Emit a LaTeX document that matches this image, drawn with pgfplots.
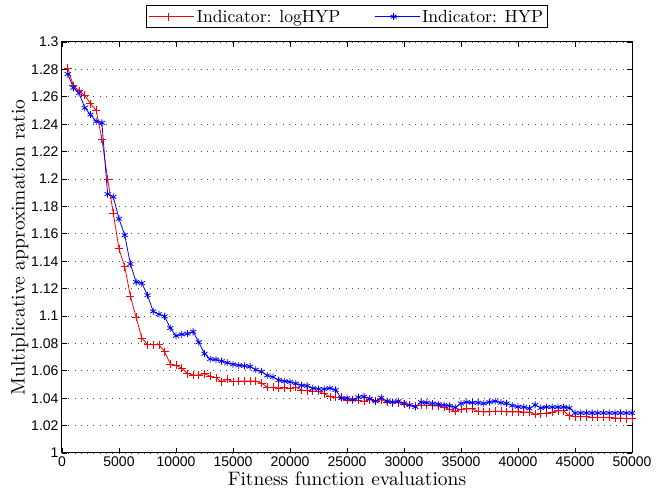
\documentclass[border=0pt]{standalone}
\usepackage{pgfplots}
\usepackage{pgfplotstable}
\pgfplotsset{compat=1.18}
\usepackage{fontspec}
\newfontfamily\ticksf{Liberation Sans}
\newfontfamily\lmten{lmroman10-regular.otf}

\pgfplotstableread{
x y
500 1.281
1000 1.268
1500 1.2645
2000 1.261
2500 1.255
3000 1.250
3500 1.229
4000 1.200
4500 1.175
5000 1.149
5500 1.136
6000 1.1145
6500 1.099
7000 1.084
7500 1.079
8000 1.079
8500 1.079
9000 1.074
9500 1.065
10000 1.064
10500 1.062
11000 1.058
11500 1.057
12000 1.057
12500 1.058
13000 1.056
13500 1.055
14000 1.052
14500 1.054
15000 1.052
15500 1.0525
16000 1.0525
16500 1.0525
17000 1.0525
17500 1.051
18000 1.048
18500 1.048
19000 1.0475
19500 1.0476
20000 1.0472
20500 1.048
21000 1.046
21500 1.0456
22000 1.0451
22500 1.0449
23000 1.0433
23500 1.0411
24000 1.0407
24500 1.0407
25000 1.0384
25500 1.0389
26000 1.0384
26500 1.0378
27000 1.0389
27500 1.0378
28000 1.0389
28500 1.0371
29000 1.0367
29500 1.0367
30000 1.0358
30500 1.035
31000 1.0346
31500 1.0349
32000 1.0349
32500 1.0344
33000 1.0344
33500 1.0333
34000 1.0318
34500 1.0304
35000 1.0318
35500 1.0322
36000 1.0322
36500 1.0304
37000 1.030
37500 1.030
38000 1.0304
38500 1.0304
39000 1.030
39500 1.030
40000 1.030
40500 1.0299
41000 1.0299
41500 1.0282
42000 1.0286
42500 1.0292
43000 1.0299
43500 1.0308
44000 1.0308
44500 1.0271
45000 1.0265
45500 1.0265
46000 1.0265
46500 1.026
47000 1.026
47500 1.026
48000 1.026
48500 1.0256
49000 1.0256
49500 1.025
50000 1.025
}\logdata

\pgfplotstableread{
x y
500 1.2766
1000 1.2666
1500 1.2627
2000 1.252
2500 1.247
3000 1.242
3500 1.241
4000 1.189
4500 1.187
5000 1.171
5500 1.159
6000 1.138
6500 1.1248
7000 1.1240
7500 1.1152
8000 1.1033
8500 1.1013
9000 1.0997
9500 1.0912
10000 1.0855
10500 1.0866
11000 1.0871
11500 1.0885
12000 1.0809
12500 1.0725
13000 1.0686
13500 1.0682
14000 1.067
14500 1.0659
15000 1.0647
15500 1.064
16000 1.0636
16500 1.0631
17000 1.0608
17500 1.0594
18000 1.0566
18500 1.0555
19000 1.0532
19500 1.0524
20000 1.0519
20500 1.0507
21000 1.0493
21500 1.049
22000 1.0473
22500 1.0467
23000 1.0467
23500 1.0473
24000 1.046
24500 1.040
25000 1.040
25500 1.0389
26000 1.0407
26500 1.0411
27000 1.0396
27500 1.0378
28000 1.0404
28500 1.0378
29000 1.0371
29500 1.0378
30000 1.0362
30500 1.035
31000 1.0336
31500 1.0371
32000 1.0367
32500 1.0362
33000 1.0356
33500 1.0349
34000 1.0344
34500 1.0333
35000 1.0362
35500 1.0371
36000 1.0367
36500 1.0367
37000 1.0362
37500 1.0371
38000 1.0378
38500 1.0367
39000 1.0362
39500 1.0346
40000 1.0338
40500 1.0335
41000 1.0325
41500 1.0351
42000 1.0329
42500 1.0335
43000 1.0335
43500 1.0335
44000 1.0335
44500 1.0329
45000 1.0292
45500 1.0292
46000 1.0292
46500 1.0292
47000 1.0292
47500 1.0292
48000 1.0292
48500 1.0292
49000 1.0292
49500 1.0292
50000 1.0292
}\hypdata

\begin{document}
\begin{tikzpicture}
\begin{axis}[
  name=ax,
  scale only axis,
  width=570pt, height=411pt,
  xmin=0, xmax=50000, ymin=1, ymax=1.3,
  xtick={0,5000,10000,15000,20000,25000,30000,35000,40000,45000,50000},
  ytick={1,1.02,1.04,1.06,1.08,1.1,1.12,1.14,1.16,1.18,1.2,1.22,1.24,1.26,1.28,1.3},
  scaled x ticks=false, scaled y ticks=false,
  xticklabel style={/pgf/number format/1000 sep={}},
  yticklabel style={/pgf/number format/fixed, /pgf/number format/precision=2},
  /pgf/number format/assume math mode=true,
  tick label style={font=\ticksf\fontsize{14}{16}\selectfont},
  ymajorgrids,
  grid style={black!70, line width=0.6pt, dash pattern=on 0.8pt off 5.5pt},
  tick align=inside, tick pos=both,
  major tick length=5pt,
  every tick/.style={black, line width=0.8pt},
  axis line style={black, line width=1pt},
  xlabel={Fitness function evaluations},
  ylabel={Multiplicative approximation ratio},
  label style={font=\lmten\fontsize{19.5}{22}\selectfont},
  xlabel style={yshift=2pt},
  ylabel style={yshift=-4pt},
  legend columns=2,
  legend style={at={(0.5,1.034)}, anchor=south, draw=black, line width=1pt,
    font=\lmten\fontsize{17.6}{20}\selectfont, inner sep=2pt,
    nodes={inner sep=2pt},
    /tikz/every even column/.append style={column sep=32pt}},
  legend image code/.code={
    \path (0pt,0pt) -- (45pt,0pt);
    \draw[mark repeat=2, mark phase=2, line width=0.8pt, #1]
      plot coordinates {(0pt,0pt) (19pt,0pt) (38pt,0pt)};
  },
]
\addplot[red, line width=0.8pt, mark=+, mark size=4pt] table[x=x,y=y] {\logdata};
\addlegendentry{Indicator: logHYP}
\addplot[blue, line width=0.8pt, mark=asterisk, mark size=3.5pt] table[x=x,y=y] {\hypdata};
\addlegendentry{Indicator: HYP\hspace{22pt}}
\end{axis}
\pgfresetboundingbox
\path ([xshift=-62pt,yshift=-41pt]ax.south west) rectangle ([xshift=28pt,yshift=42pt]ax.north east);
\end{tikzpicture}
\end{document}
